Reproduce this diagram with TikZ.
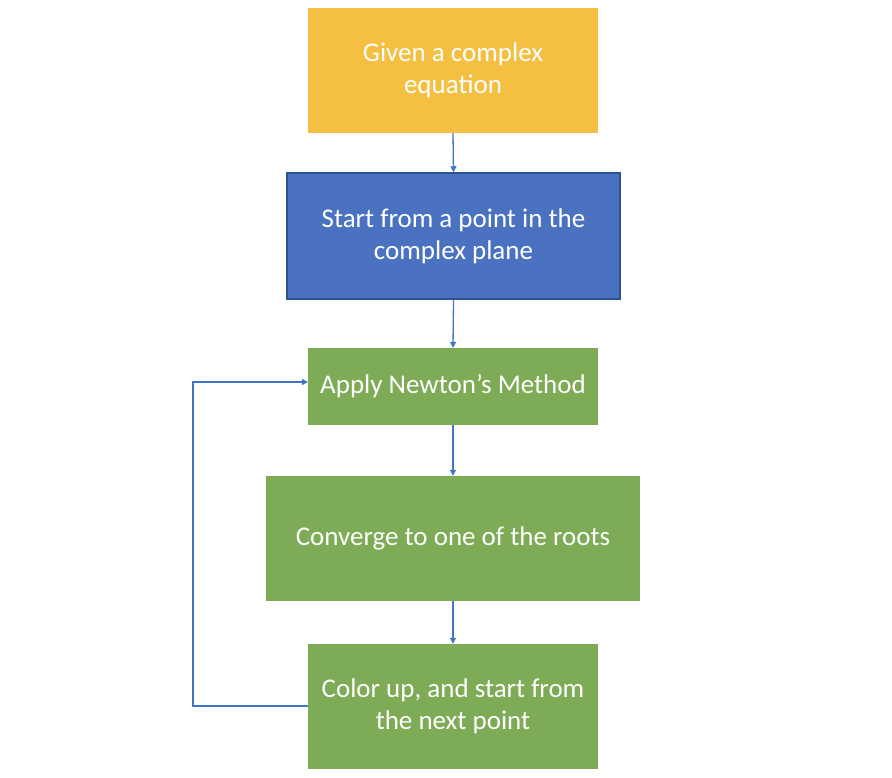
\documentclass[tikz,border=0pt]{standalone}
\usepackage{fontspec}
\setmainfont{Carlito}
\usetikzlibrary{arrows.meta}
\definecolor{ybox}{HTML}{F5BF41}
\definecolor{bbox}{HTML}{4A72C0}
\definecolor{bborder}{HTML}{2F528F}
\definecolor{gbox}{HTML}{7EAB55}
\definecolor{arr}{HTML}{4472C4}
\begin{document}
\begin{tikzpicture}[x=1pt,y=-1pt,
  box/.style={draw=none,minimum width=#1,align=center,text=white,inner sep=0pt,
    font=\fontsize{27}{32}\selectfont},
  conn/.style={draw=arr,line width=1.3pt,-{Triangle[length=6pt,width=6pt]}}]
\useasboundingbox (0,0) rectangle (892,778);
\node[box=290pt,fill=ybox,minimum height=125pt] (given) at (453,70.5) {Given a complex\\equation};
\node[box=333pt,fill=bbox,draw=bborder,line width=1.5pt,minimum height=126pt] (start) at (453.5,236) {Start from a point in the\\complex plane};
\node[box=290pt,fill=gbox,minimum height=77pt] (apply) at (453,386.5) {Apply Newton’s Method};
\node[box=374pt,fill=gbox,minimum height=125pt] (conv) at (453,538.5) {Converge to one of the roots};
\node[box=290pt,fill=gbox,minimum height=125pt] (color) at (453,706.5) {Color up, and start from\\the next point};
\coordinate (cl) at (308,706);
\coordinate (ain) at (308,382);
\draw[conn] (given.south) -- (start.north);
\draw[conn] (start.south) -- (apply.north);
\draw[conn] (apply.south) -- (conv.north);
\draw[conn] (conv.south) -- (color.north);
\draw[conn] (cl) -- (193,706) -- (193,382) -- (ain);
\end{tikzpicture}
\end{document}
